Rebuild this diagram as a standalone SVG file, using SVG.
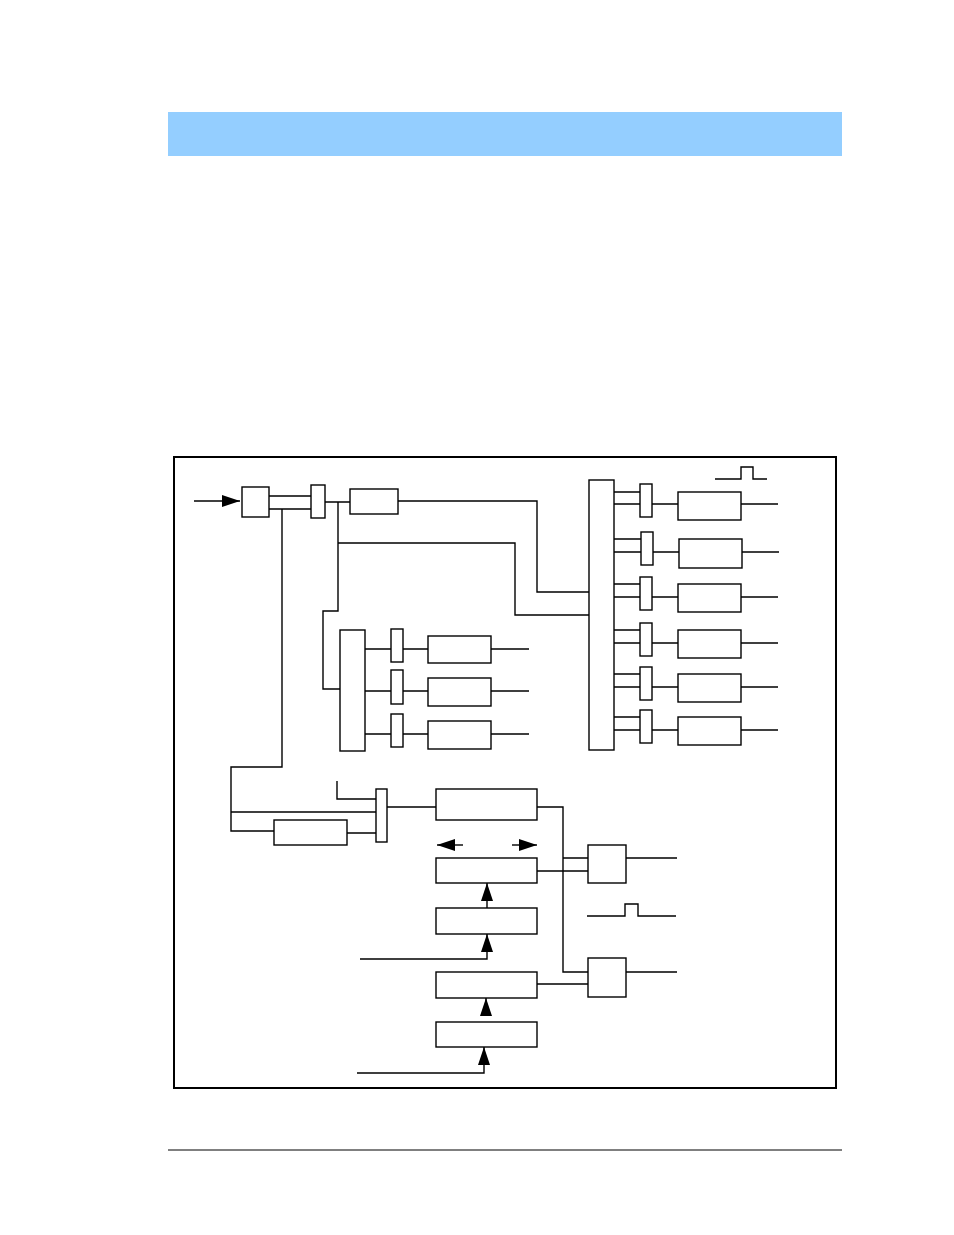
<svg xmlns="http://www.w3.org/2000/svg" width="954" height="1235" viewBox="0 0 954 1235">
<style>
rect.b{fill:#fff;stroke:#000;stroke-width:1.4}
#connectors path,#connectors line{fill:none;stroke:#000;stroke-width:1.4}
</style>
<defs>
<marker id="ah2" viewBox="0 0 18 12" refX="18" refY="6" markerWidth="18" markerHeight="12" orient="auto" markerUnits="userSpaceOnUse"><path d="M0,0 L18,6 L0,12 z" fill="#000"/></marker></defs>
<rect width="954" height="1235" fill="#fff"/>
<rect x="168" y="112" width="674" height="44" fill="#94CEFF"/>
<line x1="168" y1="1150" x2="842" y2="1150" stroke="#000" stroke-width="1"/>
<rect x="174" y="457" width="662" height="631" fill="none" stroke="#000" stroke-width="2"/>
<g id="connectors">
<path d="M194,501 H240" style="marker-end:url(#ah2)"/>
<path d="M268,496 H312 M268,509 H312 M325,502 H350 M398,501 H537 V592 H590"/>
<path d="M338,502 V611 H323 V689 H340 M338,543 H515 V615 H590"/>
<path d="M365,649 H391 M403,649 H428 M491,649 H529 M365,691 H391 M403,691 H428 M491,691 H529 M365,734 H391 M403,734 H428 M491,734 H529"/>
<path d="M282,509 V767 H231 V831 H274 M231,812 H376 M345,833 H376 M337,781 V799 H376 M387,807 H436"/>
<path d="M537,807 H563 V972 H588 M537,871 H588 M563,858 H588 M626,858 H677 M537,984 H588 M626,972 H677"/>
<path d="M587,916 H625 V904 H638 V916 H676"/>
<path d="M463,845 H437" style="marker-end:url(#ah2)"/>
<path d="M512,845 H537" style="marker-end:url(#ah2)"/>
<path d="M487,909 V883" style="marker-end:url(#ah2)"/>
<path d="M360,959 H487 V934" style="marker-end:url(#ah2)"/>
<path d="M486,1013 V998" style="marker-end:url(#ah2)"/>
<path d="M357,1073 H484 V1047" style="marker-end:url(#ah2)"/>
<path d="M715,479 H741 V467 H753 V479 H767"/>
<path d="M614,492 H640 M614,504 H640 M652,504 H678 M741,504 H778"/>
<path d="M614,539 H641 M614,552 H641 M653,552 H679 M742,552 H779"/>
<path d="M614,584 H640 M614,597 H640 M652,597 H678 M741,597 H778"/>
<path d="M614,630 H640 M614,643 H640 M652,643 H678 M741,643 H778"/>
<path d="M614,674 H640 M614,687 H640 M652,687 H678 M741,687 H778"/>
<path d="M614,717 H640 M614,730 H640 M652,730 H678 M741,730 H778"/>
</g>
<g id="nA"><rect class="b" x="242" y="487" width="27" height="30"/></g>
<g id="nB"><rect class="b" x="311" y="485" width="14" height="33"/></g>
<g id="nC"><rect class="b" x="350" y="489" width="48" height="25"/></g>
<g id="nD"><rect class="b" x="340" y="630" width="25" height="121"/></g>
<g id="nD1"><rect class="b" x="391" y="629" width="12" height="33"/></g>
<g id="nD2"><rect class="b" x="391" y="670" width="12" height="34"/></g>
<g id="nD3"><rect class="b" x="391" y="714" width="12" height="33"/></g>
<g id="nD4"><rect class="b" x="428" y="636" width="63" height="27"/></g>
<g id="nD5"><rect class="b" x="428" y="678" width="63" height="28"/></g>
<g id="nD6"><rect class="b" x="428" y="721" width="63" height="28"/></g>
<g id="nN"><rect class="b" x="589" y="480" width="25" height="270"/></g>
<g id="nR1"><rect class="b" x="640" y="484" width="12" height="33"/><rect class="b" x="678" y="492" width="63" height="28"/></g>
<g id="nR2"><rect class="b" x="641" y="532" width="12" height="33"/><rect class="b" x="679" y="539" width="63" height="29"/></g>
<g id="nR3"><rect class="b" x="640" y="577" width="12" height="33"/><rect class="b" x="678" y="584" width="63" height="28"/></g>
<g id="nR4"><rect class="b" x="640" y="623" width="12" height="33"/><rect class="b" x="678" y="630" width="63" height="28"/></g>
<g id="nR5"><rect class="b" x="640" y="667" width="12" height="33"/><rect class="b" x="678" y="674" width="63" height="28"/></g>
<g id="nR6"><rect class="b" x="640" y="710" width="12" height="33"/><rect class="b" x="678" y="717" width="63" height="28"/></g>
<g id="nE"><rect class="b" x="274" y="820" width="73" height="25"/></g>
<g id="nF"><rect class="b" x="376" y="789" width="11" height="53"/></g>
<g id="nG"><rect class="b" x="436" y="789" width="101" height="31"/></g>
<g id="nH"><rect class="b" x="436" y="858" width="101" height="25"/></g>
<g id="nK"><rect class="b" x="436" y="908" width="101" height="26"/></g>
<g id="nL"><rect class="b" x="436" y="972" width="101" height="26"/></g>
<g id="nM"><rect class="b" x="436" y="1022" width="101" height="25"/></g>
<g id="nI"><rect class="b" x="588" y="845" width="38" height="38"/></g>
<g id="nJ"><rect class="b" x="588" y="958" width="38" height="39"/></g>
</svg>
